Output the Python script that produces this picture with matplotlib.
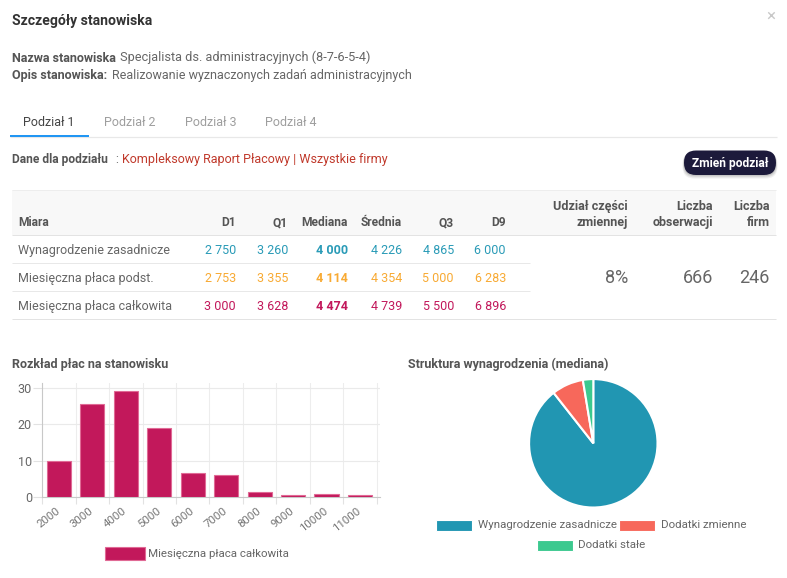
import matplotlib
matplotlib.use("Agg")
import matplotlib.pyplot as plt
from matplotlib.patches import Rectangle, FancyBboxPatch
from matplotlib.ticker import FixedLocator

plt.rcParams['font.family'] = ['Roboto', 'DejaVu Sans']

# ---------------- data ----------------
title = "Szczegóły stanowiska"
job_name = "Specjalista ds. administracyjnych (8-7-6-5-4)"
job_desc = "Realizowanie wyznaczonych zadań administracyjnych"
tabs = ["Podział 1", "Podział 2", "Podział 3", "Podział 4"]
source_text = "Kompleksowy Raport Płacowy | Wszystkie firmy"

stat_cols = ["D1", "Q1", "Mediana", "Średnia", "Q3", "D9"]
measures = ["Wynagrodzenie zasadnicze", "Miesięczna płaca podst.", "Miesięczna płaca całkowita"]
row_basic = [2750, 3260, 4000, 4226, 4865, 6000]
row_podst = [2753, 3355, 4114, 4354, 5000, 6283]
row_total = [3000, 3628, 4474, 4739, 5500, 6896]
row_colors = ["#2A9BB7", "#F8AA33", "#C2185B"]
variable_share = "8%"
n_obs = 666
n_firms = 246

hist_labels = ["2000", "3000", "4000", "5000", "6000", "7000", "8000", "9000", "10000", "11000"]
hist_values = [9.8, 25.5, 29.2, 18.9, 6.7, 6.0, 1.3, 0.6, 0.9, 0.6]
hist_series = "Miesięczna płaca całkowita"
hist_color = "#C2185B"

pie_labels = ["Wynagrodzenie zasadnicze", "Dodatki zmienne", "Dodatki stałe"]
pie_values = [89.4, 8.0, 2.6]
pie_colors = ["#2196B2", "#F7685B", "#3CC98F"]

# ---------------- figure ----------------
W, H = 787, 578
fig = plt.figure(figsize=(W / 100, H / 100), dpi=100)
fig.patch.set_facecolor("white")

ov = fig.add_axes([0, 0, 1, 1])
ov.set_xlim(0, W)
ov.set_ylim(H, 0)
ov.axis("off")

PX = 0.72  # px -> pt


def txt(x, y, s, size=12, color="#666666", weight="normal", ha="left", va="baseline"):
    ov.text(x, y, s, fontsize=size * PX, color=color, fontweight=weight, ha=ha, va=va)


def hline(x0, x1, y, color="#E6E6E6", lw=1.0):
    ov.plot([x0, x1], [y, y], color=color, lw=lw * PX, solid_capstyle="butt")


def fmt(v):
    return f"{v:,}".replace(",", " ")


# header
txt(12, 25, title, size=14, color="#333333", weight="bold")
txt(771, 21, "×", size=17, color="#C8C8C8", ha="center")

txt(12, 61.5, "Nazwa stanowiska", size=12.5, color="#555555", weight="bold")
txt(120, 61.5, job_name, size=12.8, color="#666666")
txt(12, 79, "Opis stanowiska:", size=12.5, color="#555555", weight="bold")
txt(112, 79, job_desc, size=12.5, color="#666666")

# tabs
tab_x = [49, 130, 211, 291]
for i, (t, x) in enumerate(zip(tabs, tab_x)):
    txt(x, 126, t, size=12.5, color="#444444" if i == 0 else "#9E9E9E", ha="center")
hline(10, 777, 136.5, color="#E8E8E8", lw=1.2)
hline(10, 89, 136, color="#2196F3", lw=2)

txt(12, 163, "Dane dla podziału", size=12, color="#555555", weight="bold")
txt(115, 163, ":", size=12, color="#666666")
txt(122, 163, source_text, size=12.5, color="#C0392B")

# button (with soft shadow)
for k, a in [(3.0, 0.06), (2.0, 0.08), (1.0, 0.10)]:
    ov.add_patch(FancyBboxPatch((684 - k * 0.5, 150.5 + k * 0.6), 92 + k, 24.5 + k * 0.6,
                                boxstyle="round,pad=0,rounding_size=12",
                                facecolor="black", alpha=a, edgecolor="none"))
btn = FancyBboxPatch((684, 150.5), 92, 24.5, boxstyle="round,pad=0,rounding_size=12",
                     facecolor="#1C1A3B", edgecolor="none")
ov.add_patch(btn)
txt(730, 167, "Zmień podział", size=12, color="white", weight="bold", ha="center")

# table
ov.add_patch(Rectangle((12, 190), 764, 45, facecolor="#F8F8F8", edgecolor="none"))
hline(12, 776, 190, color="#EDEDED")
hline(12, 776, 235, color="#E3E3E3")
hline(12, 530, 263, color="#E8E8E8")
hline(12, 530, 291, color="#E8E8E8")
hline(12, 776, 319, color="#E3E3E3")

hdr_color = "#555555"
txt(18, 226, "Miara", size=12, color=hdr_color, weight="bold")
col_right = [236, 288, 348, 402, 454, 506]
for c, x in zip(stat_cols, col_right):
    txt(x, 226, c, size=12, color=hdr_color, weight="bold", ha="right")
txt(628, 210, "Udział części", size=12.5, color=hdr_color, weight="bold", ha="right")
txt(628, 226, "zmiennej", size=12.5, color=hdr_color, weight="bold", ha="right")
txt(713, 210, "Liczba", size=12.5, color=hdr_color, weight="bold", ha="right")
txt(713, 226, "obserwacji", size=12.5, color=hdr_color, weight="bold", ha="right")
txt(770, 210, "Liczba", size=12.5, color=hdr_color, weight="bold", ha="right")
txt(770, 226, "firm", size=12.5, color=hdr_color, weight="bold", ha="right")

row_base = [254, 282, 310]
for name, vals, col, yb in zip(measures, [row_basic, row_podst, row_total], row_colors, row_base):
    txt(18, yb, name, size=12.5, color="#666666")
    for j, (v, x) in enumerate(zip(vals, col_right)):
        txt(x, yb, fmt(v), size=12.5, color=col, weight="bold" if j == 2 else "normal", ha="right")

txt(628, 283, variable_share, size=18, color="#666666", ha="right")
txt(713, 283, str(n_obs), size=18, color="#666666", ha="right")
txt(770, 283, str(n_firms), size=18, color="#666666", ha="right")

# section titles
txt(12, 368, "Rozkład płac na stanowisku", size=12.5, color="#555555", weight="bold")
txt(408, 368, "Struktura wynagrodzenia (mediana)", size=12.5, color="#555555", weight="bold")

# ---------------- histogram ----------------
x0_px, x1_px = 42.3, 380.0
y0_px, ytop_px = 497.0, 383.3
ax = fig.add_axes([x0_px / W, (H - y0_px) / H, (x1_px - x0_px) / W, (y0_px - ytop_px) / H])
xs = list(range(len(hist_values)))
ax.bar(xs, hist_values, width=0.72, color=hist_color, edgecolor="#E06A95", linewidth=0.8, zorder=3)
ax.set_xlim(-0.5, len(hist_values) - 0.4)
ax.set_ylim(0, 31.2)
ax.set_yticks([0, 10, 20, 30])
ax.set_xticks(xs)
ax.set_xticklabels(hist_labels, rotation=38, ha="right", va="center", rotation_mode="anchor")
ax.xaxis.set_minor_locator(FixedLocator([i - 0.5 for i in range(len(hist_values) + 1)]))
ax.tick_params(axis="x", which="major", length=0, pad=9, labelsize=11.5 * PX, labelcolor="#777777")
ax.tick_params(axis="x", which="minor", length=7 * PX, color="#E2E2E2", width=0.8)
ax.tick_params(axis="y", length=9 * PX, color="#E2E2E2", width=0.8, pad=1,
               labelsize=12.5 * PX, labelcolor="#666666")
ax.grid(axis="y", which="major", color="#EAEAEA", lw=0.8, zorder=0)
ax.grid(axis="x", which="minor", color="#EDEDED", lw=0.8, zorder=0)
for s in ["top", "right"]:
    ax.spines[s].set_visible(False)
ax.spines["left"].set_color("#C8C8C8")
ax.spines["bottom"].set_color("#C8C8C8")
ax.spines["left"].set_linewidth(0.8)
ax.spines["bottom"].set_linewidth(0.8)

# histogram legend
ov.add_patch(Rectangle((105, 546.5), 40, 13.5, facecolor=hist_color, edgecolor="#E06A95", lw=0.8))
txt(148, 557, hist_series, size=11.5, color="#666666")

# ---------------- pie ----------------
cx, cy, r = 593.3, 443.3, 65.5
pax = fig.add_axes([(cx - r) / W, (H - cy - r) / H, 2 * r / W, 2 * r / H])
pax.pie(pie_values, colors=pie_colors, startangle=90, counterclock=False, radius=1,
        wedgeprops=dict(edgecolor="white", linewidth=1.5))
pax.set_xlim(-1.02, 1.02)
pax.set_ylim(-1.02, 1.02)
pax.set_aspect("equal", adjustable="box")

# pie legend
leg_items = [(436, 520, 478, 528), (619, 520, 661, 528), (537, 540, 578, 548)]
for (sx, sy, tx, ty), lab, col in zip(leg_items, pie_labels, pie_colors):
    ov.add_patch(Rectangle((sx, sy), 36, 11, facecolor=col, edgecolor="white", lw=0.8))
    txt(tx, ty, lab, size=11.5, color="#666666")

fig.savefig("out.png", dpi=100, facecolor="white")
